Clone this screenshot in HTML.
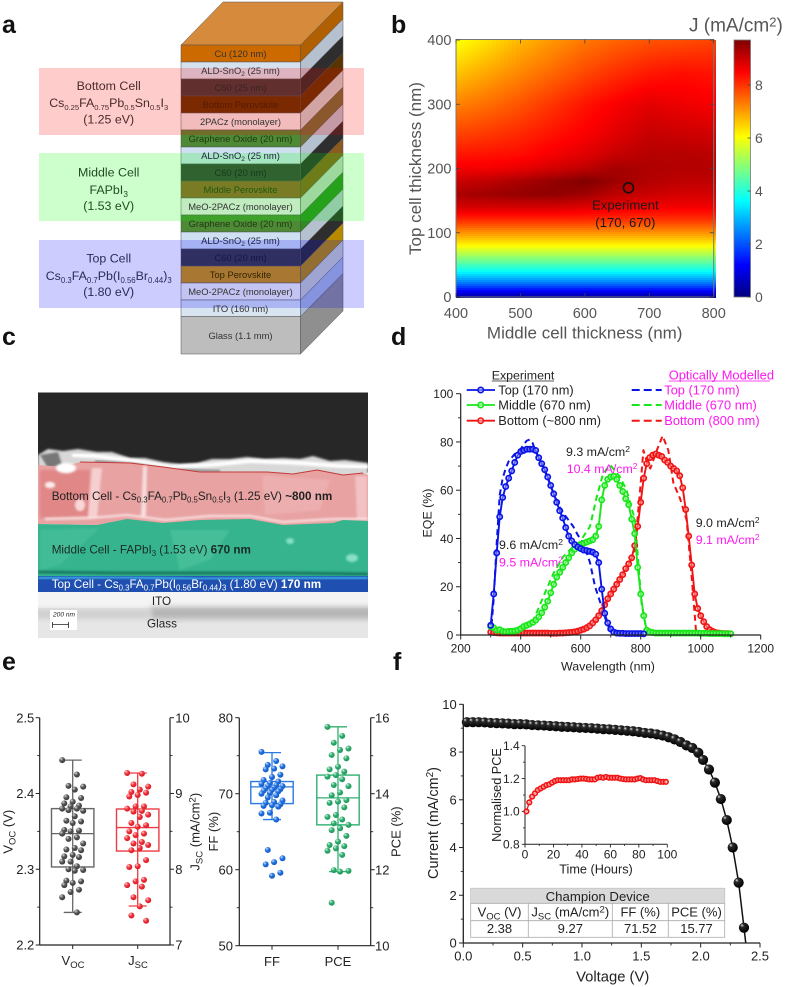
<!DOCTYPE html>
<html lang="en">
<head>
<meta charset="utf-8">
<title>Triple junction perovskite solar cell figure</title>
<style>
html,body{margin:0;padding:0;background:#fff;}
svg{display:block;filter:blur(0.35px);}
text{font-family:"Liberation Sans",sans-serif;}
</style>
</head>
<body>
<svg id="fig" xmlns="http://www.w3.org/2000/svg" width="787" height="987" viewBox="0 0 787 987">
<defs>
<filter id="soft" x="-10%" y="-10%" width="120%" height="120%"><feGaussianBlur stdDeviation="1"/></filter>
<filter id="softer" x="-20%" y="-40%" width="140%" height="180%"><feGaussianBlur stdDeviation="3"/></filter>
<clipPath id="semClip"><rect x="38" y="392.5" width="330" height="245.5"/></clipPath>
<radialGradient id="ballBlack" cx="40%" cy="35%" r="65%" fx="30%" fy="26%"><stop offset="0" stop-color="#e4e4e4"/><stop offset=".28" stop-color="#2a2a2a"/><stop offset="1" stop-color="#000"/></radialGradient>
<radialGradient id="ballGray" cx="40%" cy="35%" r="65%" fx="32%" fy="28%"><stop offset="0" stop-color="#ddd"/><stop offset=".5" stop-color="#555"/><stop offset="1" stop-color="#3c3c3c"/></radialGradient>
<radialGradient id="ballRed" cx="40%" cy="35%" r="65%" fx="32%" fy="28%"><stop offset="0" stop-color="#ffd0d0"/><stop offset=".5" stop-color="#ee2f38"/><stop offset="1" stop-color="#d81f28"/></radialGradient>
<radialGradient id="ballBlue" cx="40%" cy="35%" r="65%" fx="32%" fy="28%"><stop offset="0" stop-color="#cfe2ff"/><stop offset=".5" stop-color="#1f6fe0"/><stop offset="1" stop-color="#155cc8"/></radialGradient>
<radialGradient id="ballGreen" cx="40%" cy="35%" r="65%" fx="32%" fy="28%"><stop offset="0" stop-color="#d5f5e2"/><stop offset=".5" stop-color="#2eaa6c"/><stop offset="1" stop-color="#1f9a5c"/></radialGradient>
</defs>

<g font-weight="700" font-size="25" fill="#111">
<text x="2" y="33">a</text>
<text x="391" y="33">b</text>
<text x="2" y="345">c</text>
<text x="391" y="345">d</text>
<text x="2" y="670">e</text>
<text x="393" y="670">f</text>
</g>

<!-- PANEL A: device stack -->
<g id="panelA">
<g stroke="#555" stroke-width=".5">
<polygon points="181,45 223,2 343,2 300.5,45" fill="#d68a3c"/>
<rect x="181" y="45" width="119.5" height="17" fill="#cc6a00"/><polygon points="300.5,45 343,2 343,19 300.5,62" fill="#b06000"/>
<rect x="181" y="62" width="119.5" height="17" fill="#d6e1f0"/><polygon points="300.5,62 343,19 343,36 300.5,79" fill="#b5c1cf"/>
<rect x="181" y="79" width="119.5" height="17" fill="#3b3b3b"/><polygon points="300.5,79 343,36 343,53 300.5,96" fill="#2e2e2e"/>
<rect x="181" y="96" width="119.5" height="17" fill="#593400"/><polygon points="300.5,96 343,53 343,70 300.5,113" fill="#593400"/>
<rect x="181" y="113" width="119.5" height="17" fill="#efebeb"/><polygon points="300.5,113 343,70 343,87 300.5,130" fill="#c7cece"/>
<rect x="181" y="130" width="119.5" height="17" fill="#4e8a35"/><polygon points="300.5,130 343,87 343,104 300.5,147" fill="#6f6f3a"/>
<rect x="181" y="147" width="119.5" height="17" fill="#cfe0f2"/><polygon points="300.5,147 343,104 343,121 300.5,164" fill="#b5c1cf"/>
<rect x="181" y="164" width="119.5" height="17" fill="#3b3b3b"/><polygon points="300.5,164 343,121 343,138 300.5,181" fill="#2e2e2e"/>
<rect x="181" y="181" width="119.5" height="17" fill="#985c2e"/><polygon points="300.5,181 343,138 343,155 300.5,198" fill="#8a5a20"/>
<rect x="181" y="198" width="119.5" height="17" fill="#f0e8f0"/><polygon points="300.5,198 343,155 343,172 300.5,215" fill="#c5cfc5"/>
<rect x="181" y="215" width="119.5" height="17" fill="#4e8a35"/><polygon points="300.5,215 343,172 343,189 300.5,232" fill="#2f8a22"/>
<rect x="181" y="232" width="119.5" height="17" fill="#cfe0f2"/><polygon points="300.5,232 343,189 343,206 300.5,249" fill="#b5c1cf"/>
<rect x="181" y="249" width="119.5" height="17" fill="#3b3b3b"/><polygon points="300.5,249 343,206 343,223 300.5,266" fill="#2e2e2e"/>
<rect x="181" y="266" width="119.5" height="17" fill="#d29700"/><polygon points="300.5,266 343,223 343,240 300.5,283" fill="#b88a00"/>
<rect x="181" y="283" width="119.5" height="17" fill="#f5f5f0"/><polygon points="300.5,283 343,240 343,257 300.5,300" fill="#c5cfc5"/>
<rect x="181" y="300" width="119.5" height="16.5" fill="#d8e4f0"/><polygon points="300.5,300 343,257 343,273.5 300.5,316.5" fill="#a8b8d8"/>
<rect x="181" y="316.5" width="119.5" height="37.5" fill="#bdbdbd"/><polygon points="300.5,316.5 343,273.5 343,311 300.5,354" fill="#8f8f8f"/>
</g>
<rect x="39" y="68" width="325" height="67" fill="#ff0000" fill-opacity=".2"/>
<rect x="39" y="153" width="325" height="68" fill="#00ff00" fill-opacity=".2"/>
<rect x="39" y="240" width="325" height="68" fill="#0000ff" fill-opacity=".2"/>
<g font-size="9.4" text-anchor="middle" fill="#333">
<text x="240.5" y="57">Cu (120 nm)</text>
<text x="240.5" y="74">ALD-SnO<tspan dy="2" font-size="6.5">2</tspan><tspan dy="-2"> (25 nm)</tspan></text>
<text x="240.5" y="91" fill="#3a2222">C60 (25 nm)</text>
<text x="240.5" y="108" fill="#581c00">Bottom Perovskite</text>
<text x="240.5" y="125">2PACz (monolayer)</text>
<text x="240.5" y="142" fill="#1f3a12">Graphene Oxide (20 nm)</text>
<text x="240.5" y="159" fill="#224">ALD-SnO<tspan dy="2" font-size="6.5">2</tspan><tspan dy="-2"> (25 nm)</tspan></text>
<text x="240.5" y="176" fill="#163a1c">C60 (20 nm)</text>
<text x="240.5" y="193" fill="#1f5a10">Middle Perovskite</text>
<text x="240.5" y="210">MeO-2PACz (monolayer)</text>
<text x="240.5" y="227" fill="#1f3a12">Graphene Oxide (20 nm)</text>
<text x="240.5" y="244" fill="#224">ALD-SnO<tspan dy="2" font-size="6.5">2</tspan><tspan dy="-2"> (25 nm)</tspan></text>
<text x="240.5" y="261" fill="#16164a">C60 (20 nm)</text>
<text x="240.5" y="278" fill="#332200">Top Perovskite</text>
<text x="240.5" y="295">MeO-2PACz (monolayer)</text>
<text x="240.5" y="312">ITO (160 nm)</text>
<text x="240.5" y="339">Glass (1.1 mm)</text>
</g>
<g font-size="12.4" text-anchor="middle">
<g fill="#4a2a2a">
<text x="108.7" y="90">Bottom Cell</text>
<text x="108.7" y="107">Cs<tspan dy="3" font-size="7.6">0.25</tspan><tspan dy="-3">FA</tspan><tspan dy="3" font-size="7.6">0.75</tspan><tspan dy="-3">Pb</tspan><tspan dy="3" font-size="7.6">0.5</tspan><tspan dy="-3">Sn</tspan><tspan dy="3" font-size="7.6">0.5</tspan><tspan dy="-3">I</tspan><tspan dy="3" font-size="7.6">3</tspan></text>
<text x="108.7" y="123.5">(1.25 eV)</text>
</g>
<g fill="#234a23">
<text x="108.7" y="176.7">Middle Cell</text>
<text x="108.7" y="194">FAPbI<tspan dy="3" font-size="8.5">3</tspan></text>
<text x="108.7" y="210">(1.53 eV)</text>
</g>
<g fill="#2a2a55">
<text x="108.7" y="262.7">Top Cell</text>
<text x="108.7" y="280">Cs<tspan dy="3" font-size="7.8">0.3</tspan><tspan dy="-3">FA</tspan><tspan dy="3" font-size="7.8">0.7</tspan><tspan dy="-3">Pb(I</tspan><tspan dy="3" font-size="7.8">0.56</tspan><tspan dy="-3">Br</tspan><tspan dy="3" font-size="7.8">0.44</tspan><tspan dy="-3">)</tspan><tspan dy="3" font-size="7.8">3</tspan></text>
<text x="108.7" y="296">(1.80 eV)</text>
</g>
</g>
</g>

<!-- PANEL C: SEM cross section illustration -->
<g id="panelC" clip-path="url(#semClip)">
<rect x="38" y="392.5" width="330" height="80" fill="#272727"/>
<path filter="url(#soft)" d="M38,455 L48,449 L63,451 L78,449 L97,452 L112,452 L130,458 L145,458 L163,462 L180,464 L197,463 L212,459 L230,459 L247,457 L265,459 L283,458 L300,459 L313,456 L330,461 L345,460 L368,463 L368,478 L343,477 L317,472 L293,476 L267,474 L200,474 L163,469 L130,465 L80,464 L63,470 L38,470Z" fill="#d8d8d8"/>
<path filter="url(#soft)" d="M40,455 L58,452 L62,465 L48,468Z" fill="#777"/>
<path filter="url(#soft)" d="M72,455 L95,456 L135,461 L170,467 L210,465 L250,461 L300,463 L340,466 L368,467" fill="none" stroke="#fff" stroke-width="4"/>
<path filter="url(#soft)" d="M95,461 L135,464 L175,470 L220,471" fill="none" stroke="#555" stroke-width="1.2"/>
<path d="M38,465 L63,467 L80,462 L130,463 L163,467 L200,472 L267,472 L293,474 L317,470 L343,475 L363,473 L368,475 L368,522 L343,521 L333,523 L283,526 L250,520 L210,520 L163,524 L127,520 L97,525 L38,524Z" fill="#e8a2a2"/>
<path d="M80,462 L130,463 L163,467 L200,472 L267,472 L293,474 L317,470 L343,475 L363,473" fill="none" stroke="#c43a3a" stroke-width="1"/>
<g filter="url(#soft)">
<path d="M40,470 L90,470 L88,516 L40,518Z" fill="#df7f7f" opacity=".75"/>
<path d="M92,468 L102,468 L97,518 L88,518Z" fill="#f6cfcf"/>
<path d="M143,466 L147,466 L146,516 L141,516Z" fill="#f8dddd"/>
<path d="M262,475 L330,480 L320,510 L265,515Z" fill="#eeb3b3" opacity=".7"/>
<path d="M355,476 L367,476 L367,520 L357,518Z" fill="#f2c2c2"/>
<ellipse cx="66" cy="468" rx="10" ry="5" fill="#fff"/>
<ellipse cx="50" cy="485" rx="5" ry="3" fill="#fdeeee"/>
<ellipse cx="80" cy="505" rx="5" ry="6" fill="#f8d8d8"/>
<path d="M45,519 L90,518 L127,515 L165,520 L210,516 L250,516 L283,522 L333,519 L368,519" fill="none" stroke="#fbe6e6" stroke-width="2"/>
</g>
<path d="M38,524 L97,525 L127,519 L163,523 L200,520 L250,519 L283,525 L333,523 L343,520 L368,521 L368,578 L340,576 L290,577 L240,578 L200,576 L120,576 L60,578 L38,576Z" fill="#35b48d"/>
<g filter="url(#soft)">
<path d="M40,530 L100,528 L60,565 L40,570Z" fill="#4cc29e" opacity=".55"/>
<path d="M170,530 L230,530 L210,560 L180,570Z" fill="#55c9a6" opacity=".5"/>
<ellipse cx="290" cy="541" rx="4" ry="3" fill="#86e0c4"/>
<ellipse cx="352" cy="558" rx="6" ry="4" fill="#86e0c4"/>
<path d="M38,572 L120,573 L200,573 L290,573 L368,574" fill="none" stroke="#15705a" stroke-width="2.5"/>
</g>
<rect x="38" y="576" width="330" height="16" fill="#1f4fb0"/>
<path filter="url(#soft)" d="M38,578 L120,577 L200,579 L280,578 L368,578" fill="none" stroke="#3aa5e0" stroke-width="3"/>
<rect x="38" y="592" width="330" height="16" fill="#f4f4f4"/>
<rect x="38" y="608" width="330" height="30" fill="#e6e6e6"/>
<rect x="150" y="607" width="225" height="12" fill="#b4b4b4" filter="url(#softer)"/>
<rect x="30" y="609" width="120" height="10" fill="#d0d0d0" filter="url(#softer)"/>
<rect x="50" y="610" width="27" height="20" fill="#fff"/>
<text x="53" y="616.5" font-size="6.6" font-style="italic" fill="#222">200 nm</text>
<path d="M52.5,622 V628 M52.5,624.5 H68.5 M68.5,622 V628" stroke="#222" stroke-width=".8" fill="none"/>
<g font-size="11.7">
<text x="51.7" y="500" fill="#222">Bottom Cell - Cs<tspan dy="2.5" font-size="7.8">0.3</tspan><tspan dy="-2.5">FA</tspan><tspan dy="2.5" font-size="7.8">0.7</tspan><tspan dy="-2.5">Pb</tspan><tspan dy="2.5" font-size="7.8">0.5</tspan><tspan dy="-2.5">Sn</tspan><tspan dy="2.5" font-size="7.8">0.5</tspan><tspan dy="-2.5">I</tspan><tspan dy="2.5" font-size="7.8">3</tspan><tspan dy="-2.5"> (1.25 eV) </tspan><tspan font-weight="700">~800 nm</tspan></text>
<text x="51.7" y="553.3" fill="#1a2a24">Middle Cell - FAPbI<tspan dy="2.5" font-size="7.8">3</tspan><tspan dy="-2.5"> (1.53 eV) </tspan><tspan font-weight="700">670 nm</tspan></text>
<text x="51.7" y="588" fill="#fff">Top Cell - Cs<tspan dy="2.5" font-size="7.8">0.3</tspan><tspan dy="-2.5">FA</tspan><tspan dy="2.5" font-size="7.8">0.7</tspan><tspan dy="-2.5">Pb(I</tspan><tspan dy="2.5" font-size="7.8">0.56</tspan><tspan dy="-2.5">Br</tspan><tspan dy="2.5" font-size="7.8">0.44</tspan><tspan dy="-2.5">)</tspan><tspan dy="2.5" font-size="7.8">3</tspan><tspan dy="-2.5"> (1.80 eV) </tspan><tspan font-weight="700">170 nm</tspan></text>
<text x="161.5" y="605" text-anchor="middle" fill="#222">ITO</text>
<text x="162" y="627.3" text-anchor="middle" fill="#222">Glass</text>
</g>
</g>

<g id="panelB"></g>
<g id="panelD"></g>
<g id="panelE"></g>
<g id="panelF"></g>
</svg>

<script>
// ===== Chart data =====
// Panel b: heatmap
const hmMiddle = [400,450,500,550,600,650,700,750,800];
const hmTop = [0,20,40,60,80,100,120,140,160,180,200,220,250,300,350,400];
const hmValues = [
[0.3,0.3,0.3,0.3,0.3,0.3,0.3,0.3,0.3],
[2.2,2.2,2.2,2.2,2.2,2.2,2.2,2.2,2.2],
[3.7,3.7,3.7,3.7,3.7,3.7,3.7,3.7,3.7],
[4.9,4.9,4.9,4.9,4.9,4.9,4.9,4.9,4.9],
[6.1,6.1,6.1,6.1,6.1,6.1,6.1,6.1,6.1],
[7.1,7.1,7.1,7.1,7.1,7.1,7.1,7.1,7.1],
[8.1,8.1,8.1,8.1,8.1,8.05,8.0,8.0,8.0],
[8.9,8.9,8.9,8.9,8.8,8.7,8.6,8.6,8.6],
[9.3,9.4,9.5,9.55,9.4,9.1,9.0,8.9,8.9],
[9.0,9.1,9.3,9.5,9.7,9.4,9.2,9.1,9.1],
[8.6,8.6,8.7,8.9,9.1,9.35,9.25,9.2,9.2],
[8.3,8.35,8.4,8.6,8.8,9.05,9.2,9.2,9.15],
[7.9,8.0,8.15,8.35,8.55,8.8,9.05,9.0,8.95],
[7.25,7.45,7.7,8.0,8.3,8.55,8.75,8.65,8.55],
[6.6,6.9,7.2,7.5,7.8,8.05,8.25,8.35,8.3],
[6.0,6.35,6.75,7.05,7.35,7.55,7.7,7.75,7.85]];
const hmXTicks = [400,500,600,700,800];
const hmYTicks = [0,100,200,300,400];
const cbTicks = [0,2,4,6,8];
const cbMax = 9.7;
const experimentPoint = [670,170];

// Panel d: EQE
const wavelengths = [300,310,320,330,340,350,360,370,380,390,400,410,420,430,440,450,460,470,480,490,500,510,520,530,540,550,560,570,580,590,600,610,620,630,640,650,660,670,680,690,700,710,720,730,740,750,760,770,780,790,800,810,820,830,840,850,860,870,880,890,900,910,920,930,940,950,960,970,980,990,1000,1010,1020,1030,1040,1050,1060,1070,1080,1090,1100];
const eqeTop = [4,17,34,49,57,61.5,65,68,71.5,74.5,76,76.5,77,77,77,76.5,73.5,71,68.5,65.5,62,58.5,55,51.5,48.5,44.5,41,39,37.5,36.5,35.8,35.2,35,34.7,34.3,33.5,30,19,9,5,2.5,1.2,.8,.7,.7,.6,.6,.6,.6,.6,.6,.5];
const eqeMiddle = [3.5,3,2,2.2,1.5,1.3,1.5,1.6,1.7,2,2.6,3.5,4,4.6,5.2,6.2,7.5,9.2,11.5,14,17.5,21,24,26,28,30,32,34,35.5,37,37.5,38,38.5,39,39.5,41,45,56,62,64.5,65.5,65.8,64.5,62,59.5,56.5,54,48,42,28,17,8,2,1.3,1,.8,.8,.8,.8,.8,.8,.8,.8,.8,.8,.8,.8,.8,.8,.8,.7,.7,.7,.6,.6,.6,.6,.6,.5,.5,.5];
const eqeBottom = [1.2,1,.9,.8,.8,.8,.8,.8,.8,.8,.8,.8,.8,.8,.8,.8,.8,.8,.8,.8,.7,.7,.7,.8,.8,.9,1,1.1,1.3,1.6,2,2.4,3,3.8,5,6.3,8,10,12.5,15,17,19,21,23,25,27.5,29.5,32,37,45,55,65,71,73.5,74.5,75,74.5,74,72.5,71.5,70,69,68,66,61,52,41,29,17,11,8,5.5,3.5,2.2,1.5,1,.8,.7,.6,.6,.5];
const topModelNm = [300,310,320,330,340,350,360,370,380,390,400,410,420,430,440,450,470,490,510,530,542,560,575,590,609,631,648,670,687,700,720];
const topModelEqe = [0,15,38,58,65,69,72,73.5,75,76,77,79,80.5,81,79.5,76,71,65,58.5,53,50.5,47.5,45,41.5,38,30,20,11.7,5,1.5,.5];
const midModelNm = [380,410,442,476,509,542,570,598,631,653,675,698,731,753,781,792,803,820];
const midModelEqe = [1,3,6,16,25.5,32.5,36,38.7,45,57,67,70.5,65.5,60,47.7,30,13,1.5];
const botModelNm = [560,600,650,680,700,730,760,780,798,809,820,832,854,873,892,909,931,953,970,985];
const botModelEqe = [.3,1,6,12,17,23,29,35,60,76.6,72,69,76.6,82.5,76.6,63,56.6,47.7,24,.7];
const eqeXTicks = [200,400,600,800,1000,1200];
const eqeXMinor = [300,500,700,900,1100];
const eqeYTicks = [0,20,40,60,80,100];
const eqeYMinor = [10,30,50,70,90];

// Panel e: statistics
const vocValues = [2.444,2.425,2.410,2.409,2.405,2.395,2.394,2.389,2.387,2.384,2.383,2.380,2.380,2.378,2.377,2.370,2.364,2.363,2.361,2.352,2.351,2.350,2.347,2.342,2.340,2.334,2.328,2.326,2.325,2.319,2.317,2.316,2.310,2.310,2.304,2.300,2.299,2.298,2.285,2.284,2.282,2.279,2.273,2.270,2.263,2.243];
const jscValues = [9.27,9.26,9.12,9.09,9.05,9.02,9.01,8.98,8.96,8.83,8.83,8.8,8.77,8.76,8.72,8.69,8.61,8.58,8.56,8.5,8.47,8.45,8.41,8.36,8.34,8.32,8.28,8.25,8.12,8.04,8.03,7.86,7.84,7.79,7.77,7.63,7.59,7.51,7.39,7.32];
const ffValues = [75.5,74.3,73.8,73.6,73.3,73.2,72.5,72.2,71.8,71.6,71.4,71.3,71.1,71,71,70.8,70.7,70.6,70.5,70.4,70.3,70.1,70,69.8,69.5,69.1,68.9,68.8,68.6,68.5,68.4,68.3,67.5,67.4,66.6,62.6,61.5,61,60.7,59.6,59.2];
const pceValues = [15.76,15.52,15.34,15.19,15.15,15.02,14.93,14.71,14.64,14.58,14.49,14.45,14.38,14.23,14.2,14.03,13.96,13.83,13.79,13.76,13.64,13.44,13.39,13.32,13.22,13.18,13.09,13.04,12.89,12.74,12.65,12.62,12.56,12.5,12.39,11.99,11.97,11.95,11.13];
// box stats: lower whisker, Q1, median, Q3, upper whisker
const vocBox = [2.243,2.303,2.347,2.380,2.444];
const jscBox = [7.515,8.24,8.55,8.795,9.27];
const ffBox = [66.6,68.7,70.9,71.6,75.4];
const pceBox = [11.95,13.18,13.89,14.49,15.76];
const vocTicks = [2.2,2.3,2.4,2.5];
const vocMinor = [2.25,2.35,2.45];
const jscTicks = [7,8,9,10];
const jscMinor = [7.5,8.5,9.5];
const ffTicks = [50,60,70,80];
const ffMinor = [55,65,75];
const pceTicks = [10,12,14,16];
const pceMinor = [11,13,15];

// Panel f: JV and stability
const jvVoltage = [0.03,0.08,0.13,0.18,0.23,0.28,0.33,0.38,0.43,0.48,0.53,0.58,0.63,0.68,0.73,0.78,0.83,0.88,0.93,0.98,1.03,1.08,1.13,1.18,1.23,1.28,1.33,1.38,1.43,1.48,1.53,1.58,1.63,1.68,1.73,1.78,1.83,1.88,1.93,1.98,2.02,2.07,2.12,2.17,2.22,2.27,2.32,2.365,2.38];
const jvCurrent = [9.25,9.25,9.25,9.24,9.22,9.21,9.2,9.19,9.17,9.17,9.16,9.13,9.12,9.11,9.09,9.08,9.06,9.05,9.04,9.02,9.01,9,8.98,8.96,8.95,8.93,8.91,8.89,8.87,8.84,8.8,8.78,8.74,8.69,8.62,8.53,8.42,8.28,8.17,7.97,7.67,7.27,6.72,6.03,5.15,4.0,2.53,0.64,0];
const jvXTicks = [0,0.5,1,1.5,2,2.5];
const jvXMinor = [0.25,0.75,1.25,1.75,2.25];
const jvYTicks = [0,2,4,6,8,10];
const jvYMinor = [1,3,5,7,9];
const stabilityHours = [1,3,5,7,9,11,13,15,17,19,21,23,25,27,29,31,33,35,37,39,41,43,45,47,49,51,53,55,57,59,61,63,65,67,69,71,73,75,77,79,81,83,85,87,89,91,93,95,97,99];
const stabilityPce = [1.0,1.055,1.09,1.11,1.13,1.14,1.15,1.16,1.165,1.175,1.185,1.19,1.19,1.19,1.19,1.19,1.195,1.195,1.197,1.2,1.2,1.198,1.195,1.195,1.195,1.205,1.208,1.205,1.21,1.205,1.205,1.205,1.205,1.2,1.197,1.195,1.195,1.195,1.195,1.2,1.203,1.195,1.19,1.19,1.19,1.19,1.185,1.18,1.18,1.18];
const insetXTicks = [0,20,40,60,80,100];
const insetXMinor = [10,30,50,70,90];
const insetYTicks = [0.8,1.0,1.2,1.4];
const insetYMinor = [0.9,1.1,1.3];

// ===== Helpers =====
const NS = 'http://www.w3.org/2000/svg';
function linear(d0,d1,r0,r1){ return v => r0 + (v-d0)*(r1-r0)/(d1-d0); }
function node(parent,tag,name){
  const el = document.createElementNS(NS,tag);
  
  
  parent.appendChild(el);
  return el;
}
function group(parent,name){ return node(parent,'g',name); }
function ln(parent,name,x1,y1,x2,y2,stroke,w){
  const el = node(parent,'line',name);
  el.setAttribute('x1',x1); el.setAttribute('y1',y1); el.setAttribute('x2',x2); el.setAttribute('y2',y2);
  el.setAttribute('stroke',stroke); el.setAttribute('stroke-width',w);
  return el;
}
function txt(parent,name,x,y,html,size,anchor,fill,rot){
  const el = node(parent,'text',name);
  el.setAttribute('x',x); el.setAttribute('y',y);
  el.setAttribute('font-size',size);
  el.setAttribute('text-anchor',anchor||'start');
  el.setAttribute('fill',fill||'#222');
  if(rot) el.setAttribute('transform','rotate('+rot+' '+x+' '+y+')');
  el.innerHTML = html;
  return el;
}
function circ(parent,name,x,y,r,fill,stroke,sw,fo){
  const el = node(parent,'circle',name);
  el.setAttribute('cx',x); el.setAttribute('cy',y); el.setAttribute('r',r);
  el.setAttribute('fill',fill);
  if(stroke){ el.setAttribute('stroke',stroke); el.setAttribute('stroke-width',sw); }
  if(fo!==undefined) el.setAttribute('fill-opacity',fo);
  return el;
}
function pline(parent,name,xs,ys,sx,sy,stroke,w,dash){
  const el = node(parent,'polyline',name);
  el.setAttribute('points', xs.map((v,i)=>sx(v).toFixed(2)+','+sy(ys[i]).toFixed(2)).join(' '));
  el.setAttribute('fill','none'); el.setAttribute('stroke',stroke); el.setAttribute('stroke-width',w);
  el.setAttribute('stroke-linejoin','round');
  if(dash) el.setAttribute('stroke-dasharray',dash);
  return el;
}
function fmt(v,d){ return v.toFixed(d); }

// ===== Panel b =====
(function(){
  const root = document.getElementById('panelB');
  const sx = linear(400,800,456,713.7);
  const sy = linear(0,400,297,40);
  function jet(v){
    const t = Math.max(0,Math.min(1,v/cbMax));
    const c = x => Math.round(255*Math.max(0,Math.min(1,1.5-Math.abs(4*t-x))));
    return 'rgb('+c(3)+','+c(2)+','+c(1)+')';
  }
  function bracket(arr,v){
    let i = 0;
    while(i < arr.length-2 && v > arr[i+1]) i++;
    return [i,(v-arr[i])/(arr[i+1]-arr[i])];
  }
  function sample(m,t){
    const [i,fx] = bracket(hmMiddle,m);
    const [j,fy] = bracket(hmTop,t);
    const a = hmValues[j][i]*(1-fx)+hmValues[j][i+1]*fx;
    const b = hmValues[j+1][i]*(1-fx)+hmValues[j+1][i+1]*fx;
    return a*(1-fy)+b*fy;
  }
  const cells = group(root,'heatmap-cells');
  cells.setAttribute('shape-rendering','crispEdges');
  const inv = linear(456,713.7,400,800);
  const invY = linear(297,40,0,400);
  for(let py=40;py<297;py+=2){
    for(let px=456;px<714;px+=4){
      const r = node(cells,'rect','heatmap-cell');
      r.setAttribute('x',px); r.setAttribute('y',py); r.setAttribute('width',4); r.setAttribute('height',2);
      r.setAttribute('fill',jet(sample(inv(px+2),invY(py+1))));
    }
  }
  const frame = node(root,'rect','heatmap-frame');
  frame.setAttribute('x',456); frame.setAttribute('y',39.5); frame.setAttribute('width',257.7); frame.setAttribute('height',257.5);
  frame.setAttribute('fill','none'); frame.setAttribute('stroke','#777'); frame.setAttribute('stroke-width',1);
  const gc = '#555';
  hmXTicks.forEach(v=>{
    ln(root,'x-tick',sx(v),297,sx(v),293,'#444',.8);
    ln(root,'x-tick-top',sx(v),39.5,sx(v),43.5,'#444',.8);
    txt(root,'x-tick-label',sx(v),318,v,14.5,'middle',gc);
  });
  hmYTicks.forEach(v=>{
    ln(root,'y-tick',456,sy(v),460,sy(v),'#444',.8);
    ln(root,'y-tick-right',713.7,sy(v),709.7,sy(v),'#444',.8);
    txt(root,'y-tick-label',451.5,sy(v)+5,v,14.5,'end',gc);
  });
  txt(root,'x-axis-title',584.7,338.3,'Middle cell thickness (nm)',17,'middle',gc);
  txt(root,'y-axis-title',421,168.5,'Top cell thickness (nm)',17,'middle',gc,-90);
  const ex = experimentPoint;
  circ(root,'experiment-marker',sx(ex[0])-1.5,sy(ex[1]),5,'none','#111',1.6);
  txt(root,'experiment-label',625.3,209.5,'Experiment',13.2,'middle','#1a1a1a');
  txt(root,'experiment-coordinates',625.3,227,'(170, 670)',13.2,'middle','#1a1a1a');
  // colorbar
  const cb = group(root,'colorbar');
  cb.setAttribute('shape-rendering','crispEdges');
  const cy = linear(0,cbMax,297,40);
  for(let py=40;py<297;py++){
    const r = node(cb,'rect','colorbar-step');
    r.setAttribute('x',734); r.setAttribute('y',py); r.setAttribute('width',16.5); r.setAttribute('height',1);
    r.setAttribute('fill',jet(cbMax*(297-py-.5)/257));
  }
  const cf = node(root,'rect','colorbar-frame');
  cf.setAttribute('x',734); cf.setAttribute('y',40); cf.setAttribute('width',16.5); cf.setAttribute('height',257);
  cf.setAttribute('fill','none'); cf.setAttribute('stroke','#777'); cf.setAttribute('stroke-width',.8);
  cbTicks.forEach(v=>{
    ln(root,'colorbar-tick',747.5,cy(v),750.5,cy(v),'#444',.8);
    txt(root,'colorbar-tick-label',755,cy(v)+5,v,14,'start',gc);
  });
  txt(root,'colorbar-title',689,31.7,'J (mA/cm<tspan dy="-5" font-size="13">2</tspan><tspan dy="5">)</tspan>',19,'start',gc);
})();

// ===== Panel d =====
(function(){
  const root = document.getElementById('panelD');
  const sx = linear(200,1200,460.7,760.7);
  const sy = linear(0,100,635,393.7);
  const blue='#0a14e6', green='#19e619', red='#f01414', mag='#ff18f0';
  pline(root,'top-model-line',topModelNm,topModelEqe,sx,sy,blue,2,'6 4');
  pline(root,'middle-model-line',midModelNm,midModelEqe,sx,sy,green,2,'6 4');
  pline(root,'bottom-model-line',botModelNm,botModelEqe,sx,sy,red,2,'6 4');
  function series(name,vals,col,fill){
    const g = group(root,name+'-series');
    pline(g,name+'-line',wavelengths.slice(0,vals.length),vals,sx,sy,col,1.9);
    vals.forEach((v,i)=>{
      circ(g,name+'-point',sx(wavelengths[i]),sy(v),2.6,fill,col,1.7,.5);
    });
  }
  series('bottom',eqeBottom,red,'#ffb0b0');
  series('middle',eqeMiddle,green,'#b0ffb0');
  series('top',eqeTop,blue,'#b0b4ff');
  // axes
  ln(root,'x-axis-line',460.7,635,760.7,635,'#222',1.2);
  ln(root,'y-axis-line',460.7,393.7,460.7,635,'#222',1.2);
  eqeXTicks.forEach(v=>{
    ln(root,'x-tick',sx(v),635,sx(v),639.5,'#222',1);
    txt(root,'x-tick-label',sx(v),652.5,v,12,'middle');
  });
  eqeXMinor.forEach(v=>{ ln(root,'x-minor-tick',sx(v),635,sx(v),637.5,'#222',.9); });
  eqeYTicks.forEach(v=>{
    ln(root,'y-tick',460.7,sy(v),456,sy(v),'#222',1);
    txt(root,'y-tick-label',453.3,sy(v)+4.3,v,12,'end');
  });
  eqeYMinor.forEach(v=>{ ln(root,'y-minor-tick',460.7,sy(v),458,sy(v),'#222',.9); });
  txt(root,'x-axis-title',608,670.7,'Wavelength (nm)',12.4,'middle');
  txt(root,'y-axis-title',431.5,513,'EQE (%)',12.4,'middle','#222',-90);
  // legend
  const leg = group(root,'legend');
  txt(leg,'legend-experiment-header',491.7,379.5,'Experiment',12.4,'start');
  ln(leg,'legend-experiment-underline',491.7,381,554,381,'#222',.8);
  txt(leg,'legend-model-header',668.7,379.5,'Optically Modelled',12.9,'start',mag);
  ln(leg,'legend-model-underline',668.7,381,770,381,mag,.8);
  const names = ['Top (170 nm)','Middle (670 nm)','Bottom (~800 nm)'];
  const names2 = ['Top (170 nm)','Middle (670 nm)','Bottom (800 nm)'];
  const cols = [blue,green,red];
  const fills = ['#b0b4ff','#b0ffb0','#ffb0b0'];
  const rows = [390,405,420.7];
  rows.forEach((y,i)=>{
    ln(leg,'legend-line',466.7,y,495,y,cols[i],1.8);
    circ(leg,'legend-marker',480.7,y,2.7,fills[i],cols[i],1.6,.6);
    txt(leg,'legend-label',498.3,y+4.4,names[i],12.8,'start');
    const d = ln(leg,'legend-dash',631.7,y,661.7,y,cols[i],2);
    d.setAttribute('stroke-dasharray','8 4');
    txt(leg,'legend-model-label',664.3,y+4.4,names2[i],12.8,'start',mag);
  });
  const sup = '<tspan dy="-4" font-size="8.5">2</tspan>';
  txt(root,'middle-jsc-experiment',566,456,'9.3 mA/cm'+sup,12.4,'start');
  txt(root,'middle-jsc-model',566.7,473,'10.4 mA/cm'+sup,12.4,'start',mag);
  txt(root,'top-jsc-experiment',499,549,'9.6 mA/cm'+sup,12.4,'start');
  txt(root,'top-jsc-model',499,566.5,'9.5 mA/cm'+sup,12.4,'start',mag);
  txt(root,'bottom-jsc-experiment',695.7,527,'9.0 mA/cm'+sup,12.4,'start');
  txt(root,'bottom-jsc-model',695.7,544,'9.1 mA/cm'+sup,12.4,'start',mag);
})();

// ===== Panel e =====
(function(){
  const root = document.getElementById('panelE');
  function swarmOffset(i){ return (((i*7)%11)-5)*2.1; }
  function box(g,name,cx,vals,sy,color,ball,stats){
    const [lo,q1,med,q3,hi] = stats;
    ln(g,name+'-whisker',cx,sy(lo),cx,sy(hi),color,1.3);
    ln(g,name+'-cap-low',cx-9,sy(lo),cx+9,sy(lo),color,1.3);
    ln(g,name+'-cap-high',cx-9,sy(hi),cx+9,sy(hi),color,1.3);
    const r = node(g,'rect',name+'-box');
    r.setAttribute('x',cx-21.2); r.setAttribute('y',sy(q3)); r.setAttribute('width',42.4); r.setAttribute('height',sy(q1)-sy(q3));
    r.setAttribute('fill','none'); r.setAttribute('stroke',color); r.setAttribute('stroke-width',1.4);
    ln(g,name+'-median',cx-21.2,sy(med),cx+21.2,sy(med),color,1.3);
    vals.forEach((v,i)=>{
      const off = swarmOffset(i);
      circ(g,name+'-point',cx+off,sy(v),3,'url(#'+ball+')');
    });
  }
  function sidedAxis(g,xLeft,xRight,yTop,yBot,lt,lm,ld,rt,rm,rd,ls,rs,lx,rx){
    ln(g,'left-axis-line',xLeft,yTop,xLeft,yBot,'#222',1.2);
    ln(g,'right-axis-line',xRight,yTop,xRight,yBot,'#222',1.2);
    ln(g,'bottom-axis-line',xLeft,yBot,xRight,yBot,'#222',1.2);
    lt.forEach(v=>{
      ln(g,'left-tick',xLeft,ls(v),xLeft-4,ls(v),'#222',1);
      txt(g,'left-tick-label',lx,ls(v)+4.7,fmt(v,ld),13,'end');
    });
    lm.forEach(v=>{ ln(g,'left-minor-tick',xLeft,ls(v),xLeft-2.5,ls(v),'#222',.9); });
    rt.forEach(v=>{
      ln(g,'right-tick',xRight,rs(v),xRight+4,rs(v),'#222',1);
      txt(g,'right-tick-label',rx,rs(v)+4.7,fmt(v,rd),13,'start');
    });
    rm.forEach(v=>{ ln(g,'right-minor-tick',xRight,rs(v),xRight+2.5,rs(v),'#222',.9); });
  }
  // left plot
  const gL = group(root,'voc-jsc-plot');
  const yVoc = linear(2.2,2.5,945,717.7);
  const yJsc = linear(7,10,945,717.7);
  sidedAxis(gL,39.7,170,717.7,945,vocTicks,vocMinor,1,jscTicks,jscMinor,0,yVoc,yJsc,34.3,175.3);
  ln(gL,'voc-category-tick',72.7,945,72.7,949,'#222',1);
  ln(gL,'jsc-category-tick',137.7,945,137.7,949,'#222',1);
  box(gL,'voc',72.7,vocValues,yVoc,'#666','ballGray',vocBox);
  box(gL,'jsc',137.7,jscValues,yJsc,'#ee3a42','ballRed',jscBox);
  txt(gL,'voc-category-label',73,965,'V<tspan dy="3" font-size="9.5">OC</tspan>',13,'middle');
  txt(gL,'jsc-category-label',138,965,'J<tspan dy="3" font-size="9.5">SC</tspan>',13,'middle');
  txt(gL,'voc-axis-title',12.5,831.7,'V<tspan dy="3" font-size="9.5">OC</tspan><tspan dy="-3"> (V)</tspan>',13,'middle','#222',-90);
  txt(gL,'jsc-axis-title',199.5,831.7,'J<tspan dy="3" font-size="9.5">SC</tspan><tspan dy="-3"> (mA/cm</tspan><tspan dy="-4" font-size="9.5">2</tspan><tspan dy="4">)</tspan>',13,'middle','#222',-90);
  // right plot
  const gR = group(root,'ff-pce-plot');
  const yFf = linear(50,80,945.7,717.7);
  const yPce = linear(10,16,945.7,717.7);
  sidedAxis(gR,239.3,370.7,717.7,945.7,ffTicks,ffMinor,0,pceTicks,pceMinor,0,yFf,yPce,233,375);
  ln(gR,'ff-category-tick',272,945.7,272,949.7,'#222',1);
  ln(gR,'pce-category-tick',338,945.7,338,949.7,'#222',1);
  box(gR,'ff',272,ffValues,yFf,'#2a78e4','ballBlue',ffBox);
  box(gR,'pce',338,pceValues,yPce,'#2fb070','ballGreen',pceBox);
  txt(gR,'ff-category-label',272,966,'FF',13,'middle');
  txt(gR,'pce-category-label',338,966,'PCE',13,'middle');
  txt(gR,'ff-axis-title',218,831.7,'FF (%)',13,'middle','#222',-90);
  txt(gR,'pce-axis-title',400.5,831.7,'PCE (%)',13,'middle','#222',-90);
})();

// ===== Panel f =====
(function(){
  const root = document.getElementById('panelF');
  const sx = linear(0,2.5,463.3,760);
  const sy = linear(0,10,943,704.3);
  pline(root,'jv-line',jvVoltage,jvCurrent,sx,sy,'#111',1.5);
  jvVoltage.forEach((v,i)=>{
    if(jvCurrent[i] > 0){
      circ(root,'jv-point',sx(v),sy(jvCurrent[i]),5.1,'url(#ballBlack)');
    }
  });
  ln(root,'x-axis-line',463.3,943,760,943,'#222',1.3);
  ln(root,'y-axis-line',463.3,704.3,463.3,943,'#222',1.3);
  jvXTicks.forEach(v=>{
    ln(root,'x-tick',sx(v),943,sx(v),947.5,'#222',1);
    txt(root,'x-tick-label',sx(v),960.7,fmt(v,1),13,'middle');
  });
  jvXMinor.forEach(v=>{ ln(root,'x-minor-tick',sx(v),943,sx(v),945.5,'#222',.9); });
  jvYTicks.forEach(v=>{
    ln(root,'y-tick',463.3,sy(v),459,sy(v),'#222',1);
    txt(root,'y-tick-label',456.7,sy(v)+4.7,v,13,'end');
  });
  jvYMinor.forEach(v=>{ ln(root,'y-minor-tick',463.3,sy(v),460.8,sy(v),'#222',.9); });
  txt(root,'x-axis-title',612.7,981.7,'Voltage (V)',14.8,'middle');
  txt(root,'y-axis-title',438,823,'Current (mA/cm<tspan dy="-5" font-size="10">2</tspan><tspan dy="5">)</tspan>',14.4,'middle','#222',-90);
  // inset
  const ins = group(root,'pce-stability-inset');
  const ix = linear(0,100,525,667.3);
  const iy = linear(0.8,1.4,844.3,745.7);
  ln(ins,'inset-x-axis-line',525,844.3,667.3,844.3,'#222',1);
  ln(ins,'inset-y-axis-line',525,745.7,525,844.3,'#222',1);
  insetXTicks.forEach(v=>{
    ln(ins,'inset-x-tick',ix(v),844.3,ix(v),847.5,'#222',.9);
    txt(ins,'inset-x-tick-label',ix(v),858.3,v,12,'middle');
  });
  insetXMinor.forEach(v=>{ ln(ins,'inset-x-minor-tick',ix(v),844.3,ix(v),846,'#222',.8); });
  insetYTicks.forEach(v=>{
    ln(ins,'inset-y-tick',525,iy(v),521.8,iy(v),'#222',.9);
    txt(ins,'inset-y-tick-label',519.7,iy(v)+4.3,fmt(v,1),12,'end');
  });
  insetYMinor.forEach(v=>{ ln(ins,'inset-y-minor-tick',525,iy(v),523,iy(v),'#222',.8); });
  txt(ins,'inset-x-title',596,873.3,'Time (Hours)',12.7,'middle');
  txt(ins,'inset-y-title',501,795,'Normalised PCE',12.7,'middle','#222',-90);
  pline(ins,'stability-line',stabilityHours,stabilityPce,ix,iy,'#f01414',1.3);
  stabilityHours.forEach((t,i)=>{
    circ(ins,'stability-point',ix(t),iy(stabilityPce[i]),2.3,'#ffc0c0','#f01414',1.6,.7);
  });
})();
</script>
<svg style="position:absolute;left:0;top:0;filter:blur(0.3px)" xmlns="http://www.w3.org/2000/svg" width="787" height="987" viewBox="0 0 787 987">
<g font-family="Liberation Sans, sans-serif">
<rect x="470.7" y="888.3" width="254" height="49" fill="#fff" stroke="#aaa" stroke-width=".8"/>
<rect x="470.7" y="888.3" width="254" height="15" fill="#d9d9d9"/>
<path d="M470.7,903.3H724.7M470.7,920.7H724.7M528.3,903.3V937.3M612.3,903.3V937.3M668.3,903.3V937.3" stroke="#aaa" stroke-width=".8" fill="none"/>
<text x="597.7" y="901" font-size="13.2" text-anchor="middle" fill="#222">Champion Device</text>
<g font-size="13" text-anchor="middle" fill="#222">
<text x="499.5" y="916.5">V<tspan dy="3" font-size="9.5">OC</tspan><tspan dy="-3"> (V)</tspan></text>
<text x="570.3" y="916.5">J<tspan dy="3" font-size="9.5">SC</tspan><tspan dy="-3"> (mA/cm</tspan><tspan dy="-4" font-size="9.5">2</tspan><tspan dy="4">)</tspan></text>
<text x="640.3" y="916.5">FF (%)</text>
<text x="696.5" y="916.5">PCE (%)</text>
</g>
<g font-size="13" text-anchor="middle" fill="#222">
<text x="499.5" y="933">2.38</text>
<text x="570.3" y="933">9.27</text>
<text x="640.3" y="933">71.52</text>
<text x="696.5" y="933">15.77</text>
</g>
</g>
</svg>
</body>
</html>
